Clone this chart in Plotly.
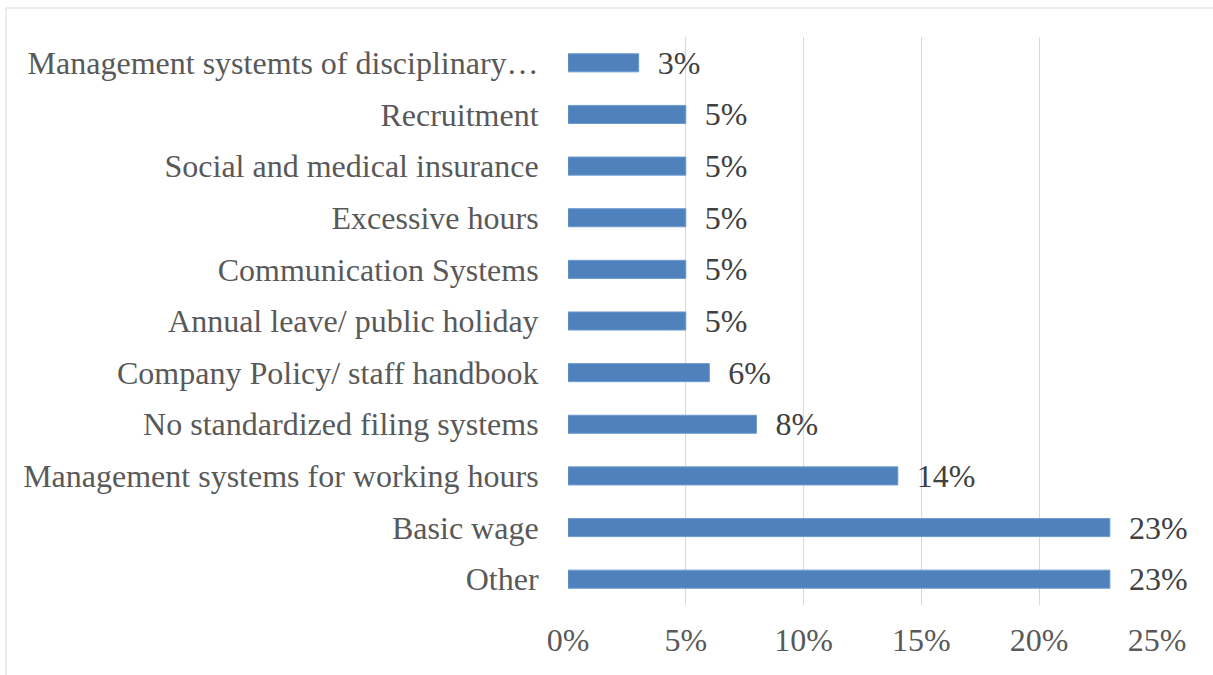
import plotly.graph_objects as go

categories = [
    "Other",
    "Basic wage",
    "Management systems for working hours",
    "No standardized filing systems",
    "Company Policy/ staff handbook",
    "Annual leave/ public holiday",
    "Communication Systems",
    "Excessive hours",
    "Social and medical insurance",
    "Recruitment",
    "Management systemts of disciplinary…",
]
values = [0.23, 0.23, 0.14, 0.08, 0.06, 0.05, 0.05, 0.05, 0.05, 0.05, 0.03]
tick_vals = [0, 0.05, 0.10, 0.15, 0.20, 0.25]
tick_text = ["0%", "5%", "10%", "15%", "20%", "25%"]

W, H = 1213, 675
L, R, T, B = 568, 56, 37, 70
pw, ph = W - L - R, H - T - B
FS = 32

fig = go.Figure(
    go.Bar(
        x=values,
        y=categories,
        orientation="h",
        marker=dict(color="#4F81BD", line=dict(color="#6F9BD0", width=1)),
        text=[f"  {round(v*100)}%" for v in values],
        textposition="outside",
        constraintext="none",
        textfont=dict(family="Liberation Serif", size=FS, color="#404040"),
        cliponaxis=False,
    )
)

fig.update_layout(
    width=W,
    height=H,
    margin=dict(l=L, r=R, t=T, b=B),
    paper_bgcolor="white",
    plot_bgcolor="white",
    bargap=0.65,
    showlegend=False,
    uniformtext=dict(minsize=FS, mode="show"),
    font=dict(family="Liberation Serif", size=FS, color="#595959"),
    xaxis=dict(
        range=[0, 0.25],
        tickvals=tick_vals,
        ticktext=tick_text,
        showgrid=True,
        gridcolor="#D9D9D9",
        gridwidth=1,
        zeroline=False,
        showline=False,
        ticks="outside",
        ticklen=7,
        tickcolor="rgba(0,0,0,0)",
        tickfont=dict(family="Liberation Serif", size=FS, color="#595959"),
    ),
    yaxis=dict(
        showgrid=False,
        zeroline=False,
        showline=False,
        ticks="outside",
        ticklen=22,
        tickcolor="rgba(0,0,0,0)",
        tickfont=dict(family="Liberation Serif", size=FS, color="#595959"),
    ),
    shapes=[
        dict(
            type="rect",
            xref="paper",
            yref="paper",
            x0=(6 - L) / pw,
            x1=(W + 20 - L) / pw,
            y0=-(B + 20) / ph,
            y1=(H - B - 8) / ph,
            line=dict(color="#D9D9D9", width=1),
            fillcolor="rgba(0,0,0,0)",
            layer="below",
        )
    ],
)

fig.write_html("out.html")
